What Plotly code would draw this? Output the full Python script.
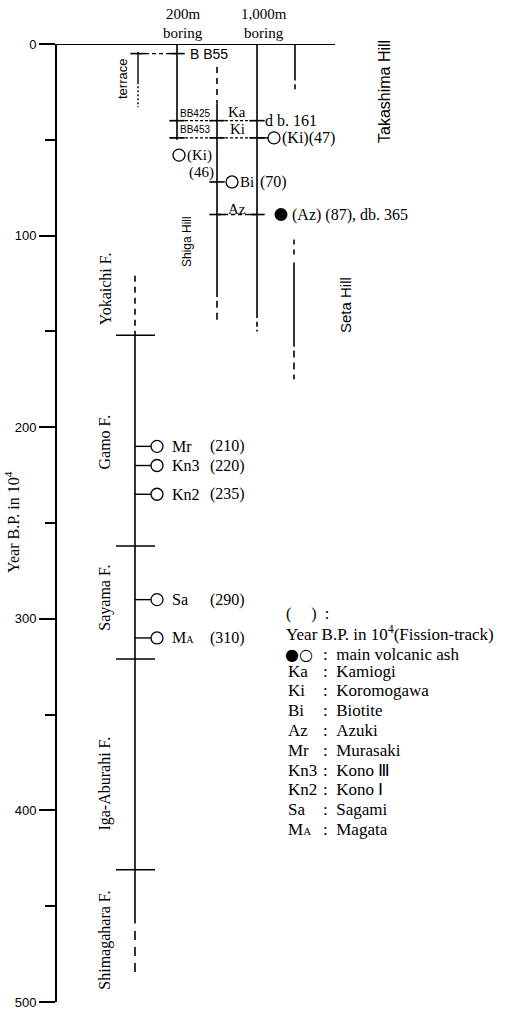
import plotly.graph_objects as go

# ---------------- data ----------------
major_ticks = [0, 100, 200, 300, 400, 500]

# lower column : formations
formation_names = ["Yokaichi F.", "Gamo F.", "Sayama F.", "Iga-Aburahi F.", "Shimagahara F."]
formation_mid = [128, 208, 289, 386, 468]
formation_bounds = [152, 262, 321, 431]
formation_dashed_top = [121, 152]
formation_solid = [152, 459]
formation_dashed_bottom = [463, 486]

# lower column : volcanic ashes (fission-track ages, 10^4 yr)
ash_codes = ["Mr", "Kn3", "Kn2", "Sa", "M<span style='font-size:10px'>A</span>"]
ash_ages = [210, 220, 235, 290, 310]

# upper part : hills / borings (depth ranges in 10^4 yr)
terrace_solid = [4, 20]
terrace_dotted = [20, 33]
boring200_solid = [0, 50]
shiga_dashed_top = [12, 31]
shiga_solid = [31, 132]
shiga_dashed_bottom = [134, 146]
boring1000_solid = [0, 143]
boring1000_dashed = [145, 150]
takashima_solid = [0, 19]
takashima_dashed = [21, 25]
seta_dashed_top = [102, 112]
seta_solid = [114, 158]
seta_dashed_bottom = [160, 175]

# marker horizons
horizon_bb55 = 5
horizon_ka = 40
horizon_ki = 49
horizon_bi = 72
horizon_az = 89
ki_label_pos = 58
ft_age_ki_1000 = 47
ft_age_ki_200 = 46
ft_age_bi = 70
ft_age_az = 87
db_ka = 161
db_az = 365

# legend
legend_codes = ["Ka", "Ki", "Bi", "Az", "Mr", "Kn3", "Kn2", "Sa", "M<span style='font-size:11px'>A</span>"]
legend_names = ["Kamiogi", "Koromogawa", "Biotite", "Azuki", "Murasaki", "Kono Ⅲ", "Kono Ⅰ", "Sagami", "Magata"]

# ---------------- layout helpers ----------------
W, H = 518, 1013
TOP, BOT = 44, 1002
SERIF = "Liberation Serif, Times New Roman, serif"
SANS = "Liberation Sans, Arial, sans-serif"


def val(px):
    """pixel row -> axis value"""
    return (px - TOP) / (BOT - TOP) * 500


def pap(px):
    """pixel row -> paper y"""
    return (BOT - px) / (BOT - TOP)


fig = go.Figure()


def vseg(x, rng, dash="solid", width=1.6):
    fig.add_trace(go.Scatter(x=[x, x], y=list(rng), mode="lines",
                             line=dict(color="black", width=width, dash=dash),
                             hoverinfo="skip", showlegend=False))


def hseg(x0, x1, y, dash="solid", width=1.6):
    fig.add_trace(go.Scatter(x=[x0, x1], y=[y, y], mode="lines",
                             line=dict(color="black", width=width, dash=dash),
                             hoverinfo="skip", showlegend=False))


# top horizontal base line (y = 0)
hseg(56, 335, major_ticks[0], width=1.8)

# terrace
vseg(138, terrace_solid, width=1.4)
vseg(138, terrace_dotted, dash="2px,2px", width=1.4)
# 200 m boring
vseg(177, boring200_solid)
# Shiga Hill
vseg(217, shiga_dashed_top, dash="6px,5px")
vseg(217, shiga_solid)
vseg(217, shiga_dashed_bottom, dash="7px,5px")
# 1,000 m boring
vseg(257, boring1000_solid)
vseg(257, boring1000_dashed, dash="5px,3px")
# Takashima Hill
vseg(295, takashima_solid)
vseg(295, takashima_dashed, dash="5px,3px")
# Seta Hill
vseg(294, seta_dashed_top, dash="5px,5px")
vseg(294, seta_solid)
vseg(294, seta_dashed_bottom, dash="7px,5px")

# horizons
hseg(138, 177, horizon_bb55, dash="4px,3px", width=1.3)
hseg(170, 257, horizon_ka, dash="3px,2px", width=1.3)
hseg(170, 257, horizon_ki, dash="3px,2px", width=1.3)
hseg(217, 257, horizon_az, dash="4px,3px", width=1.3)

# intersection ticks
cx = [138, 177, 177, 217, 257, 177, 217, 257, 217, 217, 257]
cy = [horizon_bb55, horizon_bb55, horizon_ka, horizon_ka, horizon_ka,
      horizon_ki, horizon_ki, horizon_ki, horizon_bi, horizon_az, horizon_az]
fig.add_trace(go.Scatter(x=cx, y=cy, mode="markers",
                         marker=dict(symbol="line-ew-open", size=11, color="black",
                                     line=dict(color="black", width=1.6)),
                         hoverinfo="skip", showlegend=False))

# upper ash circles
fig.add_trace(go.Scatter(x=[274, 179, 232], y=[horizon_ki, ki_label_pos, horizon_bi],
                         mode="markers",
                         marker=dict(symbol="circle-open", size=12, color="black",
                                     line=dict(color="black", width=1.3)),
                         hoverinfo="skip", showlegend=False))
fig.add_trace(go.Scatter(x=[281], y=[horizon_az], mode="markers",
                         marker=dict(symbol="circle", size=13, color="black"),
                         hoverinfo="skip", showlegend=False))
hseg(257, 268, horizon_ki, width=1.4)

# formation column
vseg(135, formation_dashed_top, dash="6px,5px")
vseg(135, formation_solid)
vseg(135, formation_dashed_bottom, dash="9px,7px")
bx, by = [], []
for b in formation_bounds:
    bx += [116, 155, None]
    by += [b, b, None]
fig.add_trace(go.Scatter(x=bx, y=by, mode="lines",
                         line=dict(color="black", width=1.6),
                         hoverinfo="skip", showlegend=False))

# ash ticks + circles
tx, ty = [], []
for a in ash_ages:
    tx += [135, 151, None]
    ty += [a, a, None]
fig.add_trace(go.Scatter(x=tx, y=ty, mode="lines",
                         line=dict(color="black", width=1.4),
                         hoverinfo="skip", showlegend=False))
fig.add_trace(go.Scatter(x=[157] * len(ash_ages), y=ash_ages, mode="markers",
                         marker=dict(symbol="circle-open", size=12, color="black",
                                     line=dict(color="black", width=1.3)),
                         hoverinfo="skip", showlegend=False))

ann = []


def txt(x, y, s, size=14, font=SERIF, anchor="left", angle=0, yref="y"):
    ann.append(dict(x=x, y=y, xref="x", yref=yref, text=s, showarrow=False,
                    xanchor=anchor, yanchor="middle", textangle=angle,
                    font=dict(family=font, size=size, color="black")))


# ash labels
for code, age in zip(ash_codes, ash_ages):
    txt(170, age, code, size=16)
    txt(208, age, f"({age})", size=16)

# formation labels
for name, mid in zip(formation_names, formation_mid):
    txt(105, mid, name, size=16, anchor="center", angle=-90)

# header labels
txt(183, pap(14), "200m", size=15, anchor="center", yref="paper")
txt(183, pap(33), "boring", size=15, anchor="center", yref="paper")
txt(264, pap(14), "1,000m", size=15, anchor="center", yref="paper")
txt(264, pap(33), "boring", size=15, anchor="center", yref="paper")

# upper labels
txt(122, val(79), "terrace", size=13, font=SANS, anchor="center", angle=-90)
txt(188, horizon_bb55, "B B55", size=14, font=SANS)
txt(178, val(113), "BB425", size=10, font="Liberation Sans Narrow, " + SANS)
txt(178, val(129), "BB453", size=10, font="Liberation Sans Narrow, " + SANS)
txt(237, val(112), "Ka", size=15, anchor="center")
txt(237, val(129), "Ki", size=15, anchor="center")
txt(263, horizon_ka, f"d b. {db_ka}", size=16)
txt(280, horizon_ki, f"(Ki)({ft_age_ki_1000})", size=16)
txt(185, ki_label_pos, "(Ki)", size=15)
txt(201, val(172), f"({ft_age_ki_200})", size=15, anchor="center")
txt(238, horizon_bi, "Bi", size=15)
txt(258, horizon_bi, f"({ft_age_bi})", size=16)
txt(237, val(209), "Az", size=15, anchor="center")
txt(290, horizon_az, f"(Az) ({ft_age_az}), db. {db_az}", size=16)
txt(384, val(92), "Takashima Hill", size=16, font=SANS, anchor="center", angle=-90)
txt(187, val(242), "Shiga Hill", size=12, font=SANS, anchor="center", angle=-90)
txt(345, val(305), "Seta Hill", size=15, font=SANS, anchor="center", angle=-90)

# y title
txt(12, val(522), "Year B.P. in 10<sup>4</sup>", size=16, anchor="center", angle=-90)

# legend
txt(284, val(614), "(&nbsp;&nbsp;&nbsp;&nbsp;&nbsp;)&nbsp;&nbsp;:", size=16)
txt(284, val(633), "Year B.P. in 10<sup>4</sup>(Fission-track)", size=17)
txt(283, val(654), "●○", size=16, font="DejaVu Sans, sans-serif")
txt(321, val(654), ":&nbsp;&nbsp;main volcanic ash", size=17)
for i, (c, n) in enumerate(zip(legend_codes, legend_names)):
    yy = val(671 + i * 19.8)
    txt(286, yy, c, size=17)
    txt(321, yy, f":&nbsp;&nbsp;{n}", size=17)

fig.update_layout(
    width=W, height=H,
    margin=dict(l=0, r=0, t=TOP, b=H - BOT),
    paper_bgcolor="white", plot_bgcolor="white",
    xaxis=dict(range=[0, W], visible=False, fixedrange=True),
    yaxis=dict(range=[500, 0], anchor="free", position=56 / W,
               showline=True, linecolor="black", linewidth=1.8,
               ticks="outside", ticklen=16, tickwidth=1.6, tickcolor="black",
               tickvals=major_ticks, ticktext=[str(t) for t in major_ticks],
               tickfont=dict(family="Liberation Sans Narrow, Liberation Sans, sans-serif",
                             size=13, color="black"),
               minor=dict(dtick=50, ticks="outside", ticklen=10, tickwidth=1.6,
                          tickcolor="black", showgrid=False),
               showgrid=False, zeroline=False, automargin=False, fixedrange=True),
    annotations=ann,
    showlegend=False,
)

fig.write_html("out.html")
